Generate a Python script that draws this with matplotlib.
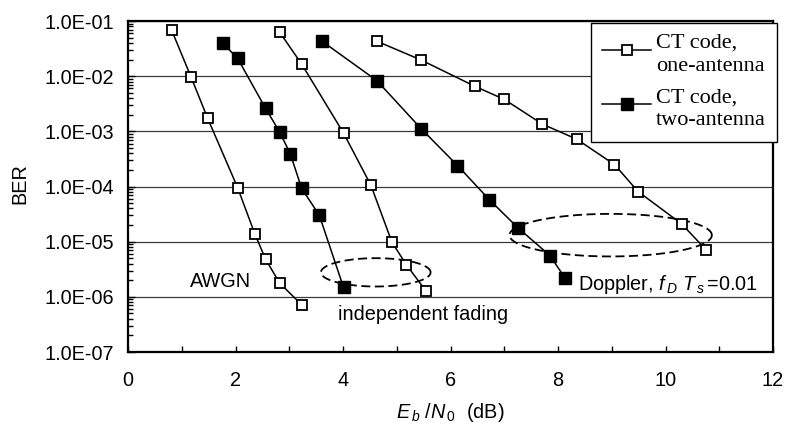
"""
BER vs Eb/N0 for the CT code, one and two antennas
(AWGN, independent fading, Doppler fading)
"""
import matplotlib
matplotlib.use('Agg')
import matplotlib.pyplot as plt
from matplotlib.ticker import MultipleLocator, LogLocator, FuncFormatter, NullFormatter
import numpy as np

plt.rcParams['font.family'] = 'Liberation Sans'
plt.rcParams['mathtext.fontset'] = 'custom'
plt.rcParams['mathtext.rm'] = 'Liberation Sans'
plt.rcParams['mathtext.it'] = 'Liberation Sans:italic'

# --- data ---
awgn_x = [0.81, 1.17, 1.48, 2.04, 2.36, 2.56, 2.82, 3.23]
awgn_ber = [6.9e-2, 9.8e-3, 1.74e-3, 9.5e-5, 1.38e-5, 4.8e-6, 1.78e-6, 7.2e-7]

indep1_x = [2.82, 3.23, 4.01, 4.52, 4.91, 5.18, 5.54]
indep1_ber = [6.3e-2, 1.66e-2, 9.3e-4, 1.05e-4, 9.8e-6, 3.8e-6, 1.29e-6]

indep2_x = [1.76, 2.04, 2.56, 2.82, 3.02, 3.23, 3.56, 4.01]
indep2_ber = [4.0e-2, 2.1e-2, 2.6e-3, 9.8e-4, 3.9e-4, 9.3e-5, 3.0e-5, 1.48e-6]

dopp1_x = [4.63, 5.46, 6.46, 7.00, 7.71, 8.35, 9.05, 9.49, 10.30, 10.75]
dopp1_ber = [4.3e-2, 1.95e-2, 6.5e-3, 3.8e-3, 1.35e-3, 7.2e-4, 2.5e-4, 8.1e-5, 2.1e-5, 7.2e-6]

dopp2_x = [3.61, 4.63, 5.46, 6.13, 6.72, 7.25, 7.85, 8.13]
dopp2_ber = [4.3e-2, 8.3e-3, 1.1e-3, 2.4e-4, 5.8e-5, 1.8e-5, 5.6e-6, 2.2e-6]

legend_labels = ['CT code,\none-antenna', 'CT code,\ntwo-antenna']

# dashed ellipses: centre x, centre log10(BER), half width, half height (decades)
small_ring = (4.61, -5.556, 1.02, 0.257)
large_ring = (8.98, -4.882, 1.883, 0.386)

FS = 14.3


def draw_ring(ax, ring):
    cx, cy, a, b = ring
    t = np.linspace(0, 2 * np.pi, 200)
    ax.plot(cx + a * np.cos(t), 10 ** (cy + b * np.sin(t)), color='black',
            lw=1.3, linestyle=(0, (5, 2.5)), zorder=2)


fig = plt.figure(figsize=(7.86, 4.24), dpi=100)
ax = fig.add_axes([128 / 786, 72 / 424, 645 / 786, 331 / 424])

open_style = dict(color='black', lw=1.1, marker='s', markersize=7.8,
                  markerfacecolor='white', markeredgecolor='black',
                  markeredgewidth=1.3, zorder=3)
fill_style = dict(color='black', lw=1.1, marker='s', markersize=8.0,
                  markerfacecolor='black', markeredgecolor='black',
                  markeredgewidth=1.0, zorder=3)

h1, = ax.plot(awgn_x, awgn_ber, **open_style)
ax.plot(indep1_x, indep1_ber, **open_style)
ax.plot(dopp1_x, dopp1_ber, **open_style)
h2, = ax.plot(indep2_x, indep2_ber, **fill_style)
ax.plot(dopp2_x, dopp2_ber, **fill_style)

draw_ring(ax, small_ring)
draw_ring(ax, large_ring)

ax.set_yscale('log')
ax.set_xlim(0, 12)
ax.set_ylim(1e-7, 1e-1)

ax.xaxis.set_major_locator(MultipleLocator(2))
ax.xaxis.set_minor_locator(MultipleLocator(1))
ax.yaxis.set_major_locator(LogLocator(base=10, numticks=20))
ax.yaxis.set_minor_locator(LogLocator(base=10, subs=np.arange(2, 10), numticks=20))
ax.yaxis.set_major_formatter(FuncFormatter(lambda v, p: f'{v:.1E}'))
ax.yaxis.set_minor_formatter(NullFormatter())

ax.tick_params(axis='both', which='both', direction='in', top=False, right=False,
               labelsize=FS, width=1.0, color='black')
ax.tick_params(axis='x', which='both', length=4, pad=14)
ax.tick_params(axis='y', which='major', length=5, pad=10)
ax.tick_params(axis='y', which='minor', length=3.5)

for s in ax.spines.values():
    s.set_linewidth(1.6)
    s.set_color('black')

ax.grid(axis='y', which='major', color='#3a3a3a', lw=0.9)
ax.set_axisbelow(True)

ax.set_ylabel('BER', fontsize=FS)
ax.yaxis.set_label_coords(-0.153, 0.51)
ax.set_xlabel(r'$E_{\,b}$ /$N_{\,\mathit{0}}$  (dB)', fontsize=FS)
ax.xaxis.set_label_coords(0.5, -0.148)

ax.text(1.73, 10 ** -5.82, 'AWGN', fontsize=FS, ha='center', va='baseline')
ax.text(3.91, 10 ** -6.42, 'independent fading', fontsize=FS, ha='left', va='baseline')
ax.text(8.38, 10 ** -5.88, r'Doppler, $f_{\,D}\,\,T_{\,s}\,$=0.01', fontsize=FS,
        ha='left', va='baseline')

leg = ax.legend([h1, h2], legend_labels, loc='upper right',
                bbox_to_anchor=(776.7 / 786, 1 - 22.7 / 424),
                bbox_transform=fig.transFigure, borderaxespad=0,
                prop={'family': 'Liberation Serif', 'size': 16},
                fancybox=False, framealpha=1, edgecolor='black',
                handlelength=2.2, handletextpad=0.2, labelspacing=0.55,
                handleheight=2.0, borderpad=0.5, numpoints=1)
leg.get_frame().set_linewidth(1.0)
for t in leg.get_texts():
    t.set_linespacing(1.3)

fig.savefig('out.png', dpi=100)
plt.close(fig)
